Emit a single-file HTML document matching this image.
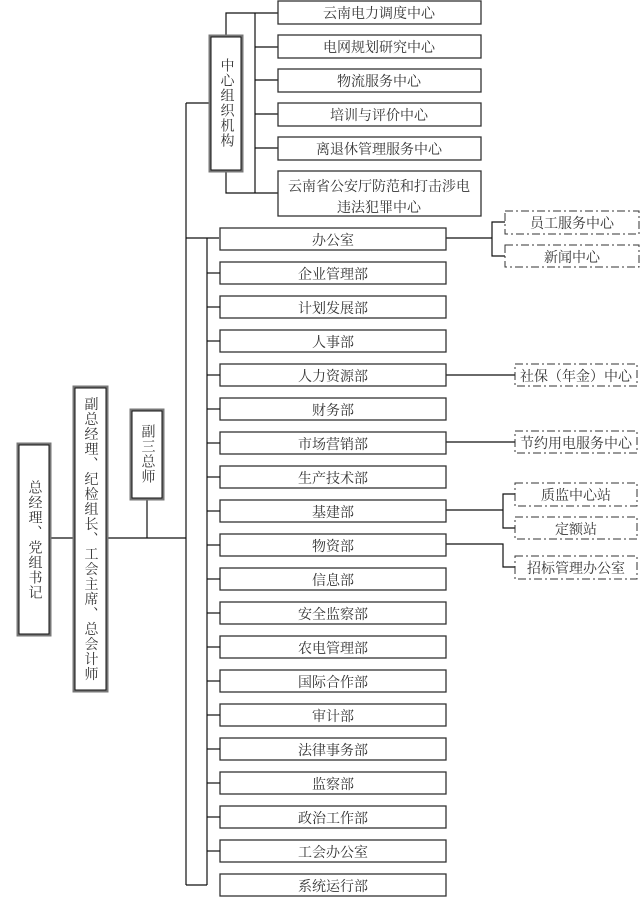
<!DOCTYPE html>
<html><head><meta charset="utf-8"><style>
html,body{margin:0;padding:0;background:#fff;}
svg text{font-family:"Liberation Serif","Noto Serif CJK SC","Noto Sans CJK SC",serif;font-size:14px;fill:#333;}
.v{writing-mode:vertical-rl;letter-spacing:1px;}
</style></head><body>
<svg width="641" height="914" viewBox="0 0 641 914" xmlns="http://www.w3.org/2000/svg">
<g fill="none" stroke="#111" stroke-width="1.2">
<line x1="50" y1="538" x2="73" y2="538"/>
<line x1="107" y1="538" x2="186" y2="538"/>
<line x1="147" y1="499" x2="147" y2="538"/>
<line x1="186" y1="238" x2="186" y2="885"/>
<line x1="186" y1="885" x2="207" y2="885"/>
<line x1="186" y1="238" x2="219" y2="238"/>
<line x1="207" y1="238" x2="207" y2="885"/>
<line x1="186" y1="103" x2="209" y2="103"/>
<line x1="186" y1="103" x2="186" y2="238"/>
<polyline points="226,35 226,13 278,13"/>
<polyline points="226,171 226,193 255,193"/>
<line x1="255" y1="13" x2="255" y2="193"/>
<line x1="255" y1="47" x2="278" y2="47"/>
<line x1="255" y1="80" x2="278" y2="80"/>
<line x1="255" y1="114" x2="278" y2="114"/>
<line x1="255" y1="148" x2="278" y2="148"/>
<line x1="255" y1="193" x2="278" y2="193"/>
<line x1="446" y1="238" x2="492" y2="238"/>
<polyline points="505,222 492,222 492,256 505,256"/>
<line x1="446" y1="375" x2="515" y2="375"/>
<line x1="446" y1="442" x2="515" y2="442"/>
<line x1="446" y1="510" x2="503" y2="510"/>
<polyline points="515,494 503,494 503,528 515,528"/>
<polyline points="446,544 503,544 503,567 515,567"/>
</g>
<g fill="#fff" stroke="#777" stroke-width="3">
<rect x="18" y="444" width="32" height="191"/>
<rect x="74" y="387" width="33" height="304"/>
<rect x="131" y="410" width="32" height="89"/>
<rect x="210" y="36" width="32" height="135"/>
</g>
<g fill="none" stroke="#111" stroke-width="1">
<rect x="19" y="445" width="30" height="189"/>
<rect x="75" y="388" width="31" height="302"/>
<rect x="132" y="411" width="30" height="87"/>
<rect x="211" y="37" width="30" height="133"/>
</g>
<text class="v" x="34" y="540" text-anchor="middle" dominant-baseline="central">总经理、党组书记</text>
<text class="v" x="90" y="539" text-anchor="middle" dominant-baseline="central">副总经理、纪检组长、工会主席、总会计师</text>
<text class="v" x="147" y="454" text-anchor="middle" dominant-baseline="central">副三总师</text>
<text class="v" x="226" y="103" text-anchor="middle" dominant-baseline="central">中心组织机构</text>
<g fill="#fff" stroke="#333" stroke-width="1.3">
<rect x="278" y="1" width="203" height="23"/>
<rect x="278" y="35" width="203" height="23"/>
<rect x="278" y="69" width="203" height="23"/>
<rect x="278" y="103" width="203" height="23"/>
<rect x="278" y="137" width="203" height="23"/>
<rect x="278" y="171" width="203" height="45"/>
</g>
<g text-anchor="middle">
<text x="379" y="18">云南电力调度中心</text>
<text x="379" y="52">电网规划研究中心</text>
<text x="379" y="86">物流服务中心</text>
<text x="379" y="120">培训与评价中心</text>
<text x="379" y="154">离退休管理服务中心</text>
<text x="379" y="191">云南省公安厅防范和打击涉电</text>
<text x="379" y="212">违法犯罪中心</text>
</g>
<g fill="#fff" stroke="#333" stroke-width="1.3">
<rect x="220" y="228" width="226" height="22"/>
<rect x="220" y="262" width="226" height="22"/>
<rect x="220" y="296" width="226" height="22"/>
<rect x="220" y="330" width="226" height="22"/>
<rect x="220" y="364" width="226" height="22"/>
<rect x="220" y="398" width="226" height="22"/>
<rect x="220" y="432" width="226" height="22"/>
<rect x="220" y="466" width="226" height="22"/>
<rect x="220" y="500" width="226" height="22"/>
<rect x="220" y="534" width="226" height="22"/>
<rect x="220" y="568" width="226" height="22"/>
<rect x="220" y="602" width="226" height="22"/>
<rect x="220" y="636" width="226" height="22"/>
<rect x="220" y="670" width="226" height="22"/>
<rect x="220" y="704" width="226" height="22"/>
<rect x="220" y="738" width="226" height="22"/>
<rect x="220" y="772" width="226" height="22"/>
<rect x="220" y="806" width="226" height="22"/>
<rect x="220" y="840" width="226" height="22"/>
<rect x="220" y="874" width="226" height="22"/>
</g>
<g stroke="#111" stroke-width="1.2">
<line x1="207" y1="273" x2="220" y2="273"/><line x1="207" y1="307" x2="220" y2="307"/>
<line x1="207" y1="341" x2="220" y2="341"/><line x1="207" y1="375" x2="220" y2="375"/>
<line x1="207" y1="409" x2="220" y2="409"/><line x1="207" y1="443" x2="220" y2="443"/>
<line x1="207" y1="477" x2="220" y2="477"/><line x1="207" y1="511" x2="220" y2="511"/>
<line x1="207" y1="545" x2="220" y2="545"/><line x1="207" y1="579" x2="220" y2="579"/>
<line x1="207" y1="613" x2="220" y2="613"/><line x1="207" y1="647" x2="220" y2="647"/>
<line x1="207" y1="681" x2="220" y2="681"/><line x1="207" y1="715" x2="220" y2="715"/>
<line x1="207" y1="749" x2="220" y2="749"/><line x1="207" y1="783" x2="220" y2="783"/>
<line x1="207" y1="817" x2="220" y2="817"/><line x1="207" y1="851" x2="220" y2="851"/>
</g>
<g text-anchor="middle">
<text x="333" y="245">办公室</text>
<text x="333" y="279">企业管理部</text>
<text x="333" y="313">计划发展部</text>
<text x="333" y="347">人事部</text>
<text x="333" y="381">人力资源部</text>
<text x="333" y="415">财务部</text>
<text x="333" y="449">市场营销部</text>
<text x="333" y="483">生产技术部</text>
<text x="333" y="517">基建部</text>
<text x="333" y="551">物资部</text>
<text x="333" y="585">信息部</text>
<text x="333" y="619">安全监察部</text>
<text x="333" y="653">农电管理部</text>
<text x="333" y="687">国际合作部</text>
<text x="333" y="721">审计部</text>
<text x="333" y="755">法律事务部</text>
<text x="333" y="789">监察部</text>
<text x="333" y="823">政治工作部</text>
<text x="333" y="857">工会办公室</text>
<text x="333" y="891">系统运行部</text>
</g>
<g fill="#fff" stroke="#333" stroke-width="1" stroke-dasharray="8,3,2,3">
<rect x="505" y="211" width="134" height="23"/>
<rect x="505" y="245" width="134" height="22"/>
<rect x="515" y="364" width="122" height="22"/>
<rect x="515" y="431" width="122" height="22"/>
<rect x="515" y="483" width="122" height="23"/>
<rect x="515" y="517" width="122" height="22"/>
<rect x="515" y="556" width="122" height="23"/>
</g>
<g text-anchor="middle">
<text x="572" y="228">员工服务中心</text>
<text x="572" y="262">新闻中心</text>
<text x="576" y="381">社保（年金）中心</text>
<text x="576" y="448">节约用电服务中心</text>
<text x="576" y="500">质监中心站</text>
<text x="576" y="534">定额站</text>
<text x="576" y="573">招标管理办公室</text>
</g>
</svg>
</body></html>
